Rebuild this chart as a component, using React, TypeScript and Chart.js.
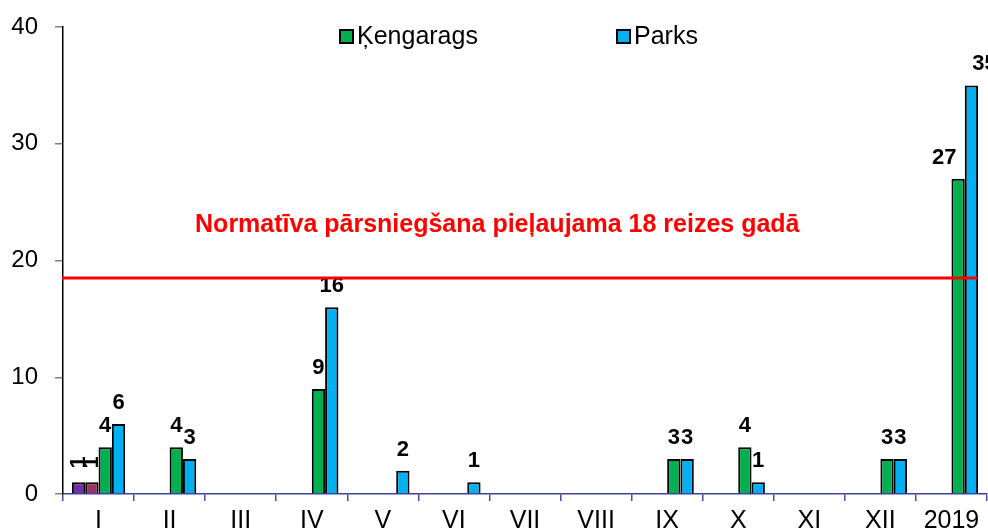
import React, { useEffect, useRef } from "react";
import { Chart, registerables } from "chart.js";

Chart.register(...registerables);

const categories = ["I", "II", "III", "IV", "V", "VI", "VII", "VIII", "IX", "X", "XI", "XII", "2019"];
const extraA = [1, null, null, null, null, null, null, null, null, null, null, null, null];
const extraB = [1, null, null, null, null, null, null, null, null, null, null, null, null];
const kengarags = [4, 4, null, 9, null, null, null, null, 3, 4, null, 3, 27];
const parks = [6, 3, null, 16, 2, 1, null, null, 3, 1, null, 3, 35];
const seriesNames = ["Ķengarags", "Parks"];
const thresholdValue = 18.5;
const noteText = "Normatīva pārsniegšana pieļaujama 18 reizes gadā";
const yMin = 0;
const yMax = 40;
const yStep = 10;

const FONT = '"Liberation Sans", Arial, sans-serif';
const GREEN = "#00B050";
const BLUE = "#00B0F0";

const overlayPlugin = {
  id: "overlay",
  afterDatasetsDraw(chart: any) {
    const { ctx, chartArea, scales } = chart;
    const y = scales.y;
    const lastIdx = categories.length - 1;
    ctx.save();
    ctx.fillStyle = "#000";
    ctx.font = `bold 22px ${FONT}`;
    ctx.textAlign = "center";
    ctx.textBaseline = "middle";
    chart.data.datasets.forEach((ds: any, di: number) => {
      const meta = chart.getDatasetMeta(di);
      meta.data.forEach((el: any, i: number) => {
        const v = ds.data[i];
        if (v === null || v === undefined || v === 0) return;
        if (di < 2) {
          ctx.save();
          ctx.translate(el.x, el.y - 20);
          ctx.rotate(-Math.PI / 2);
          ctx.fillText(String(v), 0, 0);
          ctx.restore();
        } else {
          let dx = 0;
          if (i === lastIdx) dx = di === 2 ? -14 : 13;
          ctx.fillText(String(v), el.x + dx, el.y - 21);
        }
      });
    });
    ctx.restore();

    const ly = y.getPixelForValue(thresholdValue);
    ctx.save();
    ctx.strokeStyle = "#FF0000";
    ctx.lineWidth = 3;
    ctx.beginPath();
    ctx.moveTo(chartArea.left - 1, ly);
    ctx.lineTo(chartArea.right - 10, ly);
    ctx.stroke();
    ctx.fillStyle = "#FF0000";
    ctx.font = `bold 25px ${FONT}`;
    ctx.textAlign = "center";
    ctx.textBaseline = "middle";
    ctx.fillText(noteText, chartArea.left + (chartArea.right - chartArea.left) * 0.47, y.getPixelForValue(23.05));
    ctx.restore();
  },
  afterDraw(chart: any) {
    const { ctx } = chart;
    const items = [
      { name: seriesNames[0], color: GREEN, x: 340 },
      { name: seriesNames[1], color: BLUE, x: 617 },
    ];
    ctx.save();
    ctx.font = `25px ${FONT}`;
    ctx.textBaseline = "middle";
    ctx.textAlign = "left";
    items.forEach((it) => {
      ctx.fillStyle = it.color;
      ctx.fillRect(it.x, 30, 13, 13);
      ctx.strokeStyle = "#000";
      ctx.lineWidth = 2;
      ctx.strokeRect(it.x, 30, 13, 13);
      ctx.fillStyle = "#000";
      ctx.fillText(it.name, it.x + 17, 37);
    });
    ctx.restore();
  },
};

export default function App() {
  const ref = useRef<HTMLCanvasElement>(null);
  useEffect(() => {
    if (!ref.current) return;
    const common = { borderColor: "#000", borderWidth: 2, barPercentage: 1, categoryPercentage: 0.75 };
    const chart = new Chart(ref.current, {
      type: "bar",
      data: {
        labels: categories,
        datasets: [
          { label: "a", data: extraA, backgroundColor: "#7030A0", ...common },
          { label: "b", data: extraB, backgroundColor: "#993366", ...common },
          { label: seriesNames[0], data: kengarags, backgroundColor: GREEN, ...common },
          { label: seriesNames[1], data: parks, backgroundColor: BLUE, ...common },
        ] as any,
      },
      options: {
        responsive: false,
        animation: false,
        layout: { padding: { top: 27, right: 1, left: 10, bottom: 0 } },
        plugins: { legend: { display: false }, tooltip: { enabled: false } },
        scales: {
          x: {
            offset: true,
            grid: { display: true, drawOnChartArea: false, drawTicks: true, tickLength: 7, color: "#4a4aa8", offset: true, lineWidth: 1.5 },
            border: { color: "#4040a0", width: 1.5 },
            ticks: { color: "#000", font: { family: FONT, size: 25 }, padding: 5, maxRotation: 0, autoSkip: false },
            afterFit: (scale: any) => {
              scale.height = 37;
              scale.paddingLeft = 0;
              scale.paddingRight = 0;
            },
          },
          y: {
            min: yMin,
            max: yMax,
            ticks: { stepSize: yStep, color: "#000", font: { family: FONT, size: 24 }, padding: 17 },
            grid: { display: true, drawOnChartArea: false, drawTicks: true, tickLength: 8, color: "#808080", lineWidth: 1.5 },
            border: { color: "#000", width: 1.5 },
            afterFit: (scale: any) => {
              scale.width = 53;
              scale.paddingTop = 0;
              scale.paddingBottom = 0;
            },
          },
        },
      },
      plugins: [overlayPlugin],
    });
    return () => chart.destroy();
  }, []);
  return (
    <div style={{ position: "absolute", left: 0, top: 0, width: 988, height: 531, background: "#fff" }}>
      <canvas ref={ref} width={988} height={531} />
    </div>
  );
}
